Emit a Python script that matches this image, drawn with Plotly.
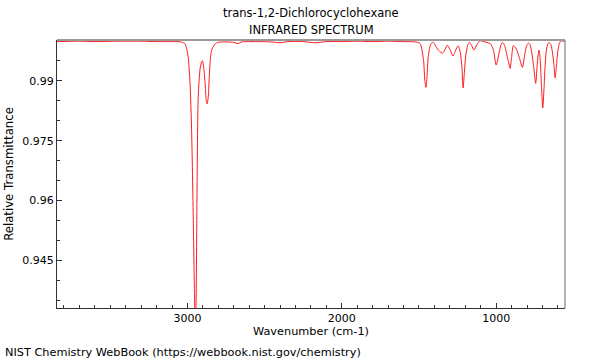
import plotly.graph_objects as go

# Read-off points of the spectrum (wavenumber cm-1, relative transmittance)
wavenumber = [
    3845, 3700, 3600, 3450, 3300, 3200, 3100, 3040, 3015, 3005, 2995, 2983, 2973,
    2962, 2955, 2950, 2945, 2938, 2930, 2918, 2908, 2903, 2895, 2885, 2878, 2872,
    2865, 2858, 2850, 2843, 2825, 2811, 2780, 2740, 2700, 2673, 2650, 2550, 2450,
    2400, 2350, 2250, 2170, 2100, 2000, 1900, 1800, 1700, 1600, 1520, 1500, 1490,
    1483, 1470, 1462, 1455, 1448, 1440, 1425, 1412, 1400, 1390, 1365, 1347, 1330,
    1317, 1300, 1279, 1262, 1246, 1232, 1222, 1214, 1206, 1198, 1185, 1175, 1160,
    1144, 1125, 1105, 1080, 1060, 1040, 1025, 1015, 1000, 990, 980, 970, 960, 945,
    935, 922, 910, 900, 889, 870, 850, 830, 815, 805, 791, 780, 770, 757, 744, 735,
    728, 722, 715, 708, 698, 690, 684, 675, 665, 657, 645, 635, 626, 618, 610, 600,
    590, 580, 554,
]
transmittance = [
    0.9998, 0.9999, 0.9998, 0.9999, 0.9999, 0.9998, 0.9998, 0.9997, 0.9992, 0.9980,
    0.9959, 0.9892, 0.9777, 0.9550, 0.9380, 0.9300, 0.9330, 0.9620, 0.9860, 0.9930,
    0.99475, 0.9950, 0.9935, 0.9890, 0.9850, 0.9842, 0.9860, 0.9915, 0.9960, 0.99768,
    0.9990, 0.9995, 0.9997, 0.9997, 0.9996, 0.9993, 0.9997, 0.9998, 0.9997, 0.9995,
    0.9998, 0.9998, 0.9995, 0.9998, 0.9998, 0.9999, 0.9998, 0.9999, 0.9998, 0.9997,
    0.9995, 0.9991, 0.9982, 0.9950, 0.9900, 0.98835, 0.9910, 0.9960, 0.9990, 0.9996,
    0.9993, 0.9985, 0.9973, 0.9969, 0.9979, 0.9989, 0.9979, 0.99617, 0.9977, 0.99875,
    0.9970, 0.9935, 0.98818, 0.9920, 0.9960, 0.9988, 0.9996, 0.9989, 0.99768, 0.9990,
    1.0000, 0.9998, 0.9996, 0.99935, 0.9985, 0.9972, 0.99393, 0.9952, 0.9972, 0.9988,
    0.9996, 0.9988, 0.9972, 0.9950, 0.9931, 0.9958, 0.99875, 0.9980, 0.9958, 0.99335,
    0.9965, 0.9985, 0.99943, 0.9990, 0.9972, 0.9935, 0.98935, 0.9935, 0.9965, 0.99768,
    0.9955, 0.9900, 0.98318, 0.9880, 0.9930, 0.9975, 0.9993, 0.9996, 0.9990, 0.9970,
    0.9940, 0.99068, 0.9935, 0.9975, 0.9994, 1.0000, 0.9998,
]

title_lines = ["trans-1,2-Dichlorocyclohexane", "INFRARED SPECTRUM"]
x_tick_values = [3000, 2000, 1000]
y_tick_values = [0.945, 0.96, 0.975, 0.99]
y_tick_labels = ["0.945", "0.96", "0.975", "0.99"]

FONT = "DejaVu Sans"
FS = 11
FS_T = 11.5

fig = go.Figure()
fig.add_trace(go.Scatter(
    x=wavenumber, y=transmittance, mode="lines",
    line=dict(color="#ff1a1a", width=1, shape="spline", smoothing=0.7),
    showlegend=False, hoverinfo="x+y",
))

fig.update_layout(
    width=600, height=360,
    margin=dict(l=57, r=35, t=40, b=52, autoexpand=False),
    paper_bgcolor="white", plot_bgcolor="white",
    font=dict(family=FONT, size=FS, color="black"),
    xaxis=dict(
        range=[3845, 554], showgrid=False, zeroline=False, automargin=False,
        showline=True, linecolor="#333", linewidth=1,
        ticks="inside", ticklen=5, tickcolor="#333",
        tickvals=x_tick_values, tickfont=dict(size=FS),
        minor=dict(dtick=100, tick0=0, ticks="inside", ticklen=3, tickcolor="#333"),
        title=dict(text="Wavenumber (cm-1)", font=dict(size=11.3), standoff=2),
    ),
    yaxis=dict(
        range=[0.9331, 1.0002], showgrid=False, zeroline=False, automargin=False,
        showline=True, linecolor="#333", linewidth=1,
        ticks="inside", ticklen=5, tickcolor="#333",
        tickvals=y_tick_values, ticktext=y_tick_labels, tickfont=dict(size=FS),
        minor=dict(dtick=0.005, tick0=0, ticks="inside", ticklen=3, tickcolor="#333"),
        title=dict(text="Relative Transmittance", font=dict(size=11.7), standoff=6),
    ),
    shapes=[
        dict(type="line", xref="paper", yref="paper", x0=0, x1=1, y0=1, y1=1,
             line=dict(color="#9a9a9a", width=2)),
        dict(type="line", xref="paper", yref="paper", x0=1, x1=1, y0=0, y1=1,
             line=dict(color="#9a9a9a", width=1.5)),
    ],
    annotations=[
        dict(text=title_lines[0], xref="paper", yref="paper", x=0.5, y=1.101,
             xanchor="center", yanchor="middle", showarrow=False, font=dict(size=FS_T)),
        dict(text=title_lines[1], xref="paper", yref="paper", x=0.5, y=1.037,
             xanchor="center", yanchor="middle", showarrow=False, font=dict(size=FS_T)),
        dict(text="NIST Chemistry WebBook (https://webbook.nist.gov/chemistry)",
             xref="paper", yref="paper", x=-54 / 508, y=-44 / 268,
             xanchor="left", yanchor="middle", showarrow=False, font=dict(size=11.3)),
    ],
)

fig.write_html("out.html", config={"displayModeBar": False},
               post_script="document.body.style.margin='0';")
